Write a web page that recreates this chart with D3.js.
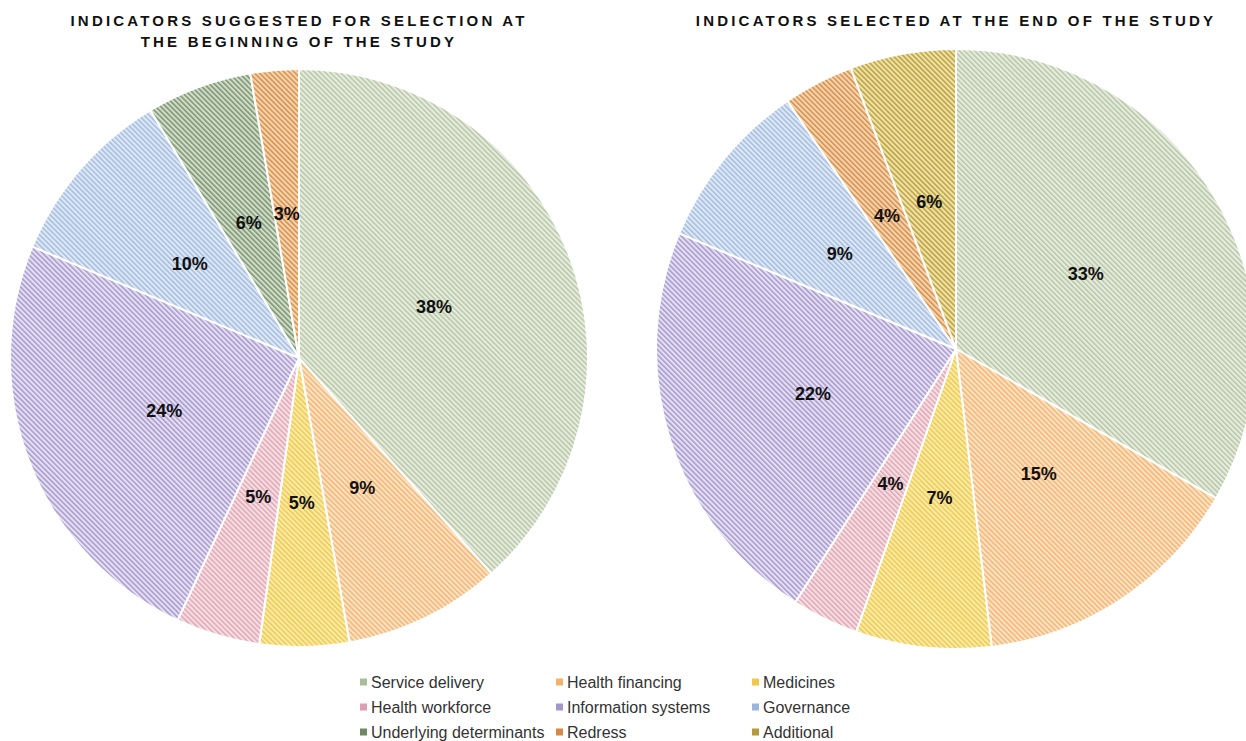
<!doctype html>
<html lang="en">
<head>
<meta charset="utf-8">
<title>Indicators pies</title>
<style>
  body { margin: 0; background: #fff; font-family: 'Liberation Sans', Arial, sans-serif; }
</style>
</head>
<body>
<svg width="1246" height="741"></svg>
<script src="https://d3js.org/d3.v7.min.js"></script>
<script>
// categories and their colours (background, stripe)
var categories = ["Service delivery", "Health financing", "Medicines", "Health workforce",
  "Information systems", "Governance", "Underlying determinants", "Redress", "Additional"];
var bgColors = ["#e7ecdf", "#fde4c6", "#fbeba8", "#f5dfe4", "#e6e0f1", "#dfe8f4", "#d2dccb", "#f6d6b2", "#efe3ab"];
var stripeColors = ["#b9c8a9", "#f6b675", "#efcb55", "#e2a9b6", "#a99cd2", "#a6bfe1", "#7f9873", "#d9914c", "#bea340"];
var legendColors = ["#a9bd9a", "#f4b16d", "#f0c84d", "#dea0b0", "#a396cc", "#9bb6dc", "#6f8a63", "#d48a45", "#b59b3b"];

// shares (%)
var beginValues = [38.4, 8.8, 5.0, 4.7, 24.4, 10.1, 5.9, 2.7, 0];
var endValues = [33.3, 14.8, 7.3, 3.6, 22.3, 9.2, 0, 3.8, 5.7];

var titles = [
  ["INDICATORS SUGGESTED FOR SELECTION AT", "THE BEGINNING OF THE STUDY"],
  ["INDICATORS SELECTED AT THE END OF THE STUDY"]
];

var svg = d3.select("svg");
var defs = svg.append("defs");

// striped patterns
categories.forEach(function(c, i) {
  var p = defs.append("pattern")
      .attr("id", "pat" + i)
      .attr("patternUnits", "userSpaceOnUse")
      .attr("width", 3.6)
      .attr("height", 10)
      .attr("patternTransform", "rotate(-45)");
  p.append("rect").attr("width", 3.6).attr("height", 10).attr("fill", bgColors[i]);
  p.append("rect").attr("width", 1.6).attr("height", 10).attr("fill", stripeColors[i]);
});

var pie = d3.pie().sort(null).value(function(d) { return d.v; });

function drawPie(values, cx, cy, r, title, titleYs) {
  var data = categories.map(function(c, i) { return {name: c, v: values[i], i: i}; })
      .filter(function(d) { return d.v > 0; });
  var arc = d3.arc().innerRadius(0).outerRadius(r);
  var labelArc = d3.arc().innerRadius(r / 2).outerRadius(r / 2);
  var g = svg.append("g").attr("transform", "translate(" + cx + "," + cy + ")");
  var arcs = pie(data);

  g.selectAll("path")
    .data(arcs)
    .enter().append("path")
      .attr("d", arc)
      .attr("fill", function(d) { return "url(#pat" + d.data.i + ")"; })
      .attr("stroke", "#fff")
      .attr("stroke-width", 2);

  g.selectAll("text.lbl")
    .data(arcs)
    .enter().append("text")
      .attr("class", "lbl")
      .attr("transform", function(d) { return "translate(" + labelArc.centroid(d) + ")"; })
      .attr("text-anchor", "middle")
      .attr("dy", "0.35em")
      .attr("font-size", 18)
      .attr("font-weight", "bold")
      .attr("fill", "#111")
      .text(function(d) { return Math.round(d.data.v) + "%"; });

  title.forEach(function(t, k) {
    svg.append("text")
      .attr("x", cx)
      .attr("y", titleYs[k])
      .attr("text-anchor", "middle")
      .attr("font-size", 15)
      .attr("font-weight", "bold")
      .attr("letter-spacing", 3.2)
      .attr("fill", "#111")
      .text(t);
  });
}

drawPie(beginValues, 299, 358, 289, titles[0], [26, 47]);
drawPie(endValues, 956, 349, 300, titles[1], [26]);

// legend
var legend = svg.append("g")
  .selectAll("g")
  .data(categories)
  .enter().append("g")
    .attr("transform", function(d, i) {
      return "translate(" + (360 + (i % 3) * 196) + "," + (682 + Math.floor(i / 3) * 25) + ")";
    });

legend.append("rect")
    .attr("x", 0)
    .attr("y", -3.5)
    .attr("width", 7)
    .attr("height", 7)
    .attr("fill", function(d, i) { return legendColors[i]; });

legend.append("text")
    .attr("x", 11)
    .attr("dy", "0.35em")
    .attr("font-size", 16)
    .attr("fill", "#333")
    .text(function(d) { return d; });
</script>
</body>
</html>
